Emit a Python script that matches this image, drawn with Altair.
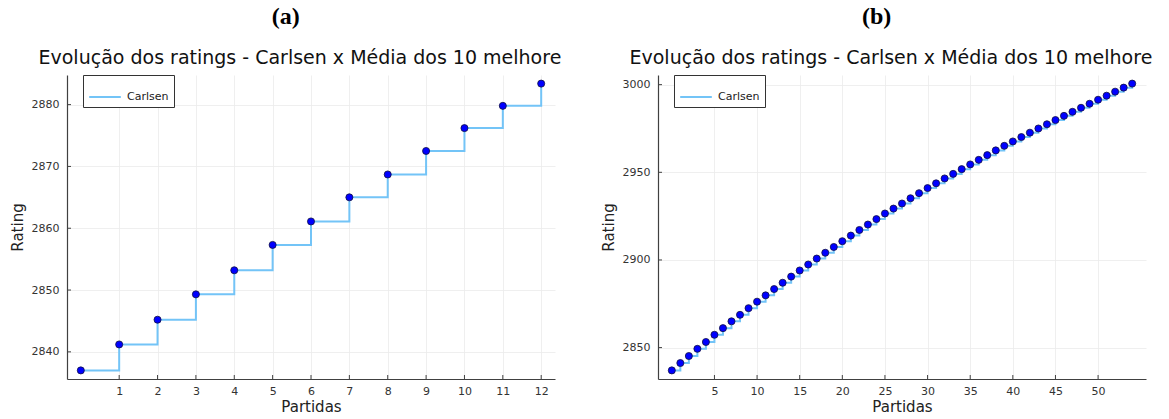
import altair as alt
import pandas as pd

# ---------------- data ----------------
serie = "Carlsen"
titulo = "Evolução dos ratings - Carlsen x Média dos 10 melhore"
rotulo_a = "(a)"
rotulo_b = "(b)"

partidas_a = list(range(13))
rating_a = [2837.0, 2841.2, 2845.2, 2849.3, 2853.2, 2857.3, 2861.1,
            2865.0, 2868.7, 2872.5, 2876.2, 2879.8, 2883.4]

partidas_b = list(range(55))
rating_b = [2837.0, 2841.2, 2845.2, 2849.3, 2853.2, 2857.3, 2861.1, 2865.0,
            2868.7, 2872.5, 2876.2, 2879.8, 2883.4, 2887.0, 2890.5, 2894.0,
            2897.4, 2900.8, 2904.1, 2907.4, 2910.7, 2913.9, 2917.1, 2920.2,
            2923.3, 2926.5, 2929.3, 2932.2, 2935.2, 2938.1, 2941.0, 2943.7,
            2946.5, 2949.1, 2951.8, 2954.5, 2957.1, 2959.8, 2962.5, 2965.1,
            2967.6, 2970.1, 2972.6, 2975.0, 2977.4, 2979.8, 2982.2, 2984.5,
            2986.8, 2989.1, 2991.4, 2993.7, 2996.0, 2998.3, 3000.6]

x_ticks_a = list(range(1, 13))
y_ticks_a = [2840, 2850, 2860, 2870, 2880]
x_ticks_b = [5, 10, 15, 20, 25, 30, 35, 40, 45, 50]
y_ticks_b = [2850, 2900, 2950, 3000]

# ---------------- style ----------------
LINE = "#73C4F7"
DOT = "#0000FF"
AXC = "#404040"
W, H = 488, 304
FONT = "DejaVu Sans"


def panel(xs, ys, xticks, yticks, label):
    df = pd.DataFrame({"Partidas": xs, "Rating": ys, "serie": [serie] * len(xs)})
    xpad = 0.03 * (max(xs) - min(xs))
    ypad = 0.03 * (max(ys) - min(ys))
    xscale = alt.Scale(domain=[min(xs) - xpad, max(xs) + xpad], nice=False, zero=False)
    yscale = alt.Scale(domain=[min(ys) - ypad, max(ys) + ypad], nice=False, zero=False)
    xaxis = alt.Axis(values=xticks, title="Partidas", format="d", tickSize=0,
                     labelPadding=6, titlePadding=3, labelFlush=False)
    yaxis = alt.Axis(values=yticks, title="Rating", format="d", tickSize=0,
                     labelPadding=8, titlePadding=6)

    base = alt.Chart(df)
    line = base.mark_line(interpolate="step-after", strokeWidth=2).encode(
        x=alt.X("Partidas:Q", scale=xscale, axis=xaxis),
        y=alt.Y("Rating:Q", scale=yscale, axis=yaxis),
        color=alt.Color("serie:N", scale=alt.Scale(range=[LINE]),
                        legend=alt.Legend(orient="none", legendX=16, legendY=0,
                                          title=None, symbolType="stroke",
                                          symbolSize=1000, symbolStrokeWidth=2,
                                          labelFontSize=11, labelFont=FONT,
                                          labelColor="#222", strokeColor="#333",
                                          fillColor="white", padding=5,
                                          cornerRadius=0, labelOffset=5)),
    )
    pts = base.mark_circle(size=50, color=DOT, stroke="#101040",
                           strokeWidth=0.8, opacity=1).encode(
        x="Partidas:Q", y="Rating:Q")

    xt = alt.Chart(pd.DataFrame({"Partidas": xticks})).mark_rule(
        color=AXC, strokeWidth=1).encode(
        x="Partidas:Q", y=alt.value(H), y2=alt.value(H - 4))
    yt = alt.Chart(pd.DataFrame({"Rating": yticks})).mark_rule(
        color=AXC, strokeWidth=1).encode(
        y="Rating:Q", x=alt.value(0), x2=alt.value(4))

    layer = alt.layer(line, pts, xt, yt).properties(
        width=W, height=H,
        title=alt.TitleParams(titulo, anchor="start", frame="group", dx=-28.5,
                              fontSize=19, font=FONT, fontWeight="normal",
                              color="#111", baseline="alphabetic", offset=-8),
    )
    return alt.vconcat(layer).properties(
        title=alt.TitleParams(label, anchor="middle", font="Liberation Serif",
                              fontWeight="bold", fontSize=24, color="#000",
                              baseline="alphabetic", offset=1)
    )


chart = alt.hconcat(
    panel(partidas_a, rating_a, x_ticks_a, y_ticks_a, rotulo_a),
    panel(partidas_b, rating_b, x_ticks_b, y_ticks_b, rotulo_b),
    spacing=38,
).resolve_scale(color="independent").resolve_legend(color="independent").properties(
    padding={"left": 9, "top": 4, "right": 0, "bottom": 0}
).configure_axis(
    labelFont=FONT, titleFont=FONT, labelFontSize=11, titleFontSize=15,
    labelColor="#333", titleColor="#222", titleFontWeight="normal",
    domainColor=AXC, domainWidth=1.2, gridColor="#ebebeb", gridWidth=0.8,
).configure_view(stroke="transparent").configure_concat(spacing=0)

chart.save("out.html", embed_options={"renderer": "svg", "actions": False})
